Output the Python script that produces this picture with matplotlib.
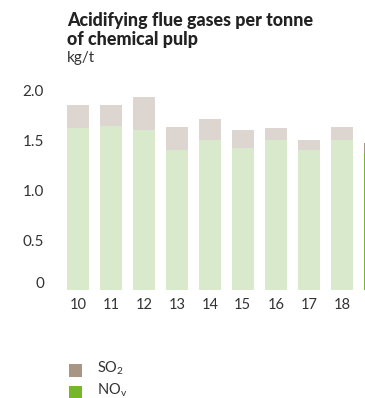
import matplotlib
matplotlib.use("Agg")
import matplotlib.pyplot as plt
import matplotlib.transforms as mtransforms
from matplotlib.patches import Rectangle

years = ["10", "11", "12", "13", "14", "15", "16", "17", "18", "19"]
nox = [1.62, 1.64, 1.60, 1.40, 1.50, 1.42, 1.50, 1.40, 1.50, 1.37]
so2 = [0.23, 0.21, 0.33, 0.23, 0.21, 0.18, 0.12, 0.10, 0.13, 0.10]
yticks = [0, 0.5, 1.0, 1.5, 2.0]
ytick_labels = ["0", "0.5", "1.0", "1.5", "2.0"]

SO2_C = "#a89583"
NOX_C = "#76b72a"
SO2_L = "#ddd5cf"
NOX_L = "#d9eacc"
TXT = "#333333"

plt.rcParams['font.family'] = ['Lato', 'DejaVu Sans']
plt.rcParams['mathtext.fontset'] = 'custom'
plt.rcParams['mathtext.rm'] = 'Lato'

W, H = 365, 398
fig = plt.figure(figsize=(W / 100, H / 100), dpi=100)

left_px, right_px = 62, 365
bottom_px, top_px = 290, 90
ax = fig.add_axes([left_px / W, (H - bottom_px) / H,
                   (right_px - left_px) / W, (bottom_px - top_px) / H])

n = len(years)
xs = list(range(n))
nox_cols = [NOX_L] * (n - 1) + [NOX_C]
so2_cols = [SO2_L] * (n - 1) + [SO2_C]
ax.bar(xs, nox, width=0.667, color=nox_cols, linewidth=0)
ax.bar(xs, so2, bottom=nox, width=0.667, color=so2_cols, linewidth=0)

ax.set_xlim((left_px - 77.8) / 33, (right_px - 77.8) / 33)
ax.set_ylim(0, 2.0)
ax.set_xticks(xs[:-1])
ax.set_xticklabels(years[:-1], fontsize=10.5, color=TXT)
ax.set_yticks(yticks)
ax.set_yticklabels(ytick_labels, fontsize=11, color=TXT)
ax.tick_params(axis='both', length=0)
ax.tick_params(axis='y', pad=13)
ax.tick_params(axis='x', pad=6)
for s in ax.spines.values():
    s.set_visible(False)
ax.patch.set_alpha(0)

# shift the "0" label upward a bit as in the reference
lbl0 = ax.get_yticklabels()[0]
lbl0.set_transform(lbl0.get_transform() +
                   mtransforms.ScaledTranslation(0, 8 / 100, fig.dpi_scale_trans))

title_lines = ["Acidifying flue gases per tonne", "of chemical pulp"]
for i, line in enumerate(title_lines):
    fig.text(67 / W, 1 - (26 + 19 * i) / H, line, fontsize=12.9,
             fontweight='black', color="#222222", va='baseline')
fig.text(67 / W, 1 - 62 / H, "kg/t", fontsize=11, color=TXT, va='baseline')

# legend
for i, (c, lab) in enumerate([(SO2_C, "SO$_\\mathrm{2}$"), (NOX_C, "NO$_\\mathrm{v}$")]):
    y_top = 364 + i * 22
    fig.patches.append(Rectangle((69 / W, 1 - (y_top + 13) / H), 13 / W, 13 / H,
                                 transform=fig.transFigure, color=c, linewidth=0))
    fig.text(97 / W, 1 - (y_top + 4) / H, lab, fontsize=10.5, color=TXT,
             va='center')

fig.savefig("out.png", dpi=100)
